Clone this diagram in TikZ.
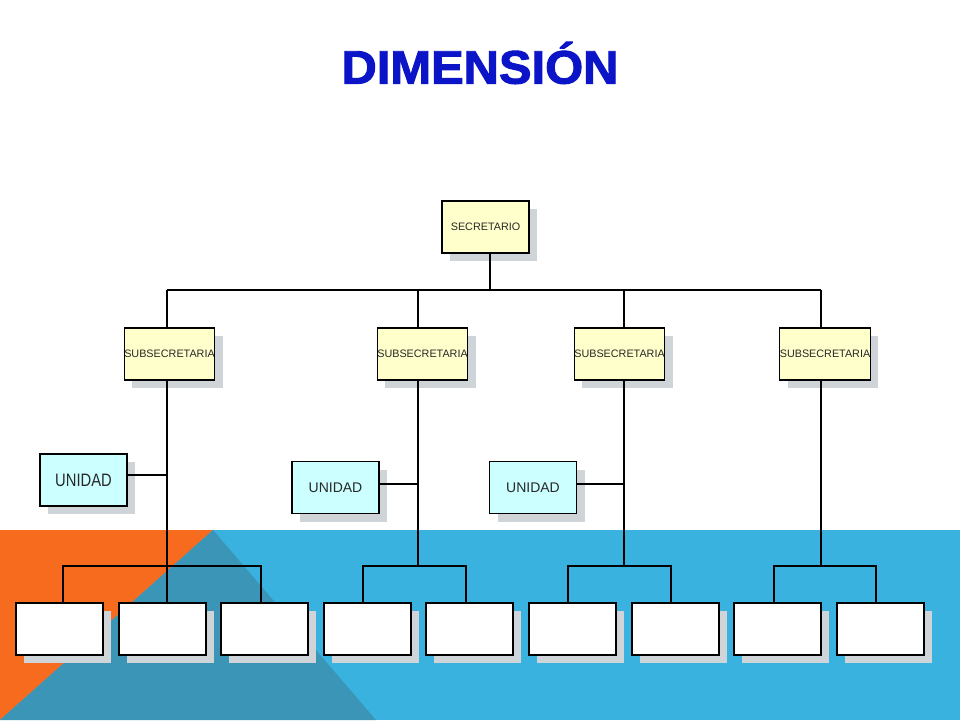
\documentclass[tikz,border=0pt]{standalone}
\usepackage{fontspec}
\setmainfont{Liberation Sans}
\newfontfamily\ttlfont[FakeBold=2]{Liberation Sans Bold}
\usetikzlibrary{shadows}
\definecolor{ltblue}{RGB}{58,178,224}
\definecolor{dkteal}{RGB}{59,149,182}
\definecolor{orng}{RGB}{247,107,31}
\definecolor{shgray}{RGB}{207,212,216}
\definecolor{yel}{RGB}{255,255,204}
\definecolor{cyn}{RGB}{204,255,255}
\definecolor{ttlblue}{RGB}{12,20,200}
\definecolor{txtgray}{RGB}{40,40,40}
\tikzset{
  box/.style={draw=black, line width=1.1pt, minimum width=87pt, minimum height=52pt, inner sep=0pt,
    drop shadow={shadow xshift=8pt, shadow yshift=-8pt, fill=shgray, opacity=1, draw=none},
    text=txtgray},
  ybox/.style={box, fill=yel, font=\fontsize{10.8}{12}\selectfont},
  ubox/.style={box, fill=cyn, font=\fontsize{14}{16}\selectfont},
  wbox/.style={box, fill=white},
  conn/.style={draw=black, line width=1.1pt}
}
\begin{document}
\begin{tikzpicture}[x=1pt,y=-1pt]
\useasboundingbox (0,0) rectangle (960,720);
\fill[white] (0,0) rectangle (960,720);
% background
\fill[ltblue] (0,530) rectangle (960,720);
\fill[orng] (0,530) -- (213,530) -- (0,720) -- cycle;
\fill[dkteal] (213,530) -- (376,720) -- (0,720) -- cycle;
% title
\node[text=ttlblue, font=\fontsize{47}{52}\ttlfont] (title) at (480,63) {\scalebox{1.04}[1]{DIMENSIÓN}};
% nodes
\node[ybox] (sec) at (485.5,227) {SECRETARIO};
\node[ybox] (s1) at (169.5,354) {SUBSECRETARIA};
\node[ybox] (s2) at (422.5,354) {SUBSECRETARIA};
\node[ybox] (s3) at (619.5,354) {SUBSECRETARIA};
\node[ybox] (s4) at (825,354) {SUBSECRETARIA};
\node[ubox, font=\fontsize{18}{20}\selectfont] (ua) at (83.5,480) {\scalebox{0.82}[1]{UNIDAD}};
\node[ubox] (ub) at (335.5,487.5) {UNIDAD};
\node[ubox] (uc) at (533,487.5) {UNIDAD};
\node[wbox] (w1) at (59.5,629) {};
\node[wbox] (w2) at (162.5,629) {};
\node[wbox] (w3) at (264.5,629) {};
\node[wbox] (w4) at (367.5,629) {};
\node[wbox] (w5) at (469.5,629) {};
\node[wbox] (w6) at (572.5,629) {};
\node[wbox] (w7) at (675.5,629) {};
\node[wbox] (w8) at (777.5,629) {};
\node[wbox] (w9) at (880.5,629) {};
% bus coordinates
\coordinate (top) at (490,290);
\coordinate (b1) at (167,290);
\coordinate (b2) at (418,290);
\coordinate (b3) at (624,290);
\coordinate (b4) at (821,290);
\coordinate (g1) at (167,566);
\coordinate (g2) at (418,566);
\coordinate (g3) at (624,566);
\coordinate (g4) at (821,566);
\coordinate (u1) at (167,475);
\coordinate (u2) at (418,484);
\coordinate (u3) at (624,484);
\coordinate (l1) at (63,566);
\coordinate (r1) at (261,566);
\coordinate (l2) at (363,566);
\coordinate (r2) at (466,566);
\coordinate (l3) at (568,566);
\coordinate (r3) at (671,566);
\coordinate (l4) at (774,566);
\coordinate (r4) at (876,566);
% connectors
\draw[conn] (sec.south -| top) -- (top);
\draw[conn] (b1) -- (b4);
\draw[conn] (b1) -- (b1 |- s1.north);
\draw[conn] (b2) -- (b2 |- s2.north);
\draw[conn] (b3) -- (b3 |- s3.north);
\draw[conn] (b4) -- (b4 |- s4.north);
\draw[conn] (s1.south -| g1) -- (g1 |- w2.north);
\draw[conn] (s2.south -| g2) -- (g2);
\draw[conn] (s3.south -| g3) -- (g3);
\draw[conn] (s4.south -| g4) -- (g4);
\draw[conn] (l1 |- w1.north) -- (l1) -- (r1) -- (r1 |- w3.north);
\draw[conn] (l2 |- w4.north) -- (l2) -- (r2) -- (r2 |- w5.north);
\draw[conn] (l3 |- w6.north) -- (l3) -- (r3) -- (r3 |- w7.north);
\draw[conn] (l4 |- w8.north) -- (l4) -- (r4) -- (r4 |- w9.north);
\draw[conn] (ua.east |- u1) -- (u1);
\draw[conn] (ub.east |- u2) -- (u2);
\draw[conn] (uc.east |- u3) -- (u3);
\end{tikzpicture}
\end{document}
